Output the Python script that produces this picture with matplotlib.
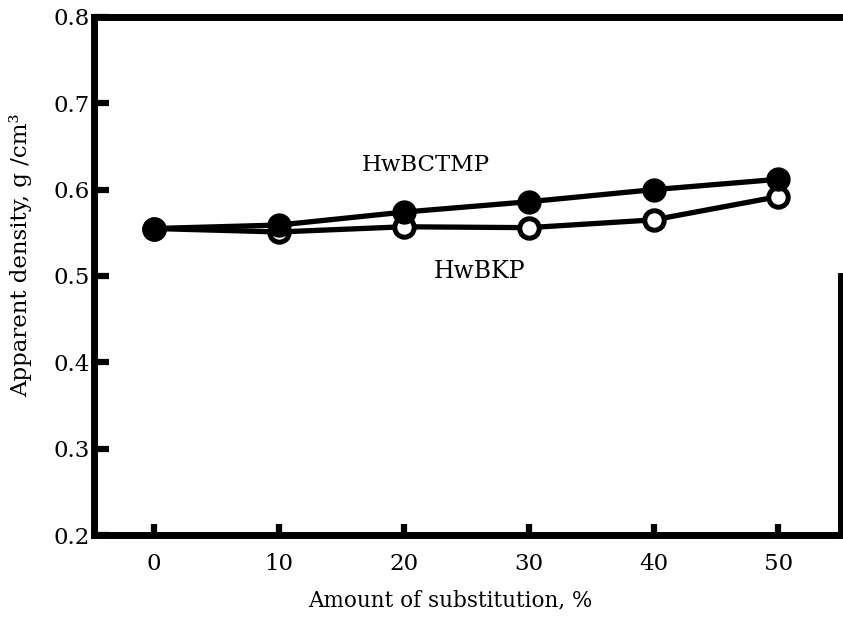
import numpy as np
import matplotlib.pyplot as plt

plt.rcParams['font.family'] = ['DejaVu Serif']

substitution = [0, 10, 20, 30, 40, 50]
hwbctmp = [0.555, 0.559, 0.574, 0.586, 0.600, 0.612]
hwbkp = [0.555, 0.551, 0.557, 0.556, 0.565, 0.592]

x_ticks = [0, 10, 20, 30, 40, 50]
y_ticks = [0.2, 0.3, 0.4, 0.5, 0.6, 0.7, 0.8]

W, H = 843, 624
fig = plt.figure(figsize=(W / 100, H / 100), dpi=100)
ax = fig.add_axes([0.1115, 0.1426, 0.886, 0.8302])

ax.plot(substitution, hwbkp, color='black', lw=3.8, marker='o', ms=14,
        mfc='white', mec='black', mew=3.6, zorder=3)
ax.plot(substitution, hwbctmp, color='black', lw=3.8, marker='o', ms=16.5,
        mfc='black', mec='black', zorder=4)

# series labels, placed in figure pixels measured from the top
fig.text(426 / W, 1 - 165 / H, 'HwBCTMP', fontsize=16.5, ha='center', va='center')
fig.text(480 / W, 1 - 272 / H, 'HwBKP', fontsize=17, ha='center', va='center')

ax.set_xlim(-4.8, 55)
ax.set_ylim(0.2, 0.8)
ax.set_xticks(x_ticks)
ax.set_yticks(y_ticks)
ax.set_yticklabels([f'{v:.1f}' for v in y_ticks])

for side in ['left', 'bottom', 'top', 'right']:
    ax.spines[side].set_linewidth(5)
ax.spines['right'].set_bounds(0.2, 0.5)

ax.tick_params(axis='y', direction='in', length=11, width=4.5, labelsize=16.5, pad=3)
ax.tick_params(axis='x', direction='in', length=8, width=4.5, labelsize=16.5, pad=13)

ax.set_xlabel('Amount of substitution, %', fontsize=15.5)
ax.set_ylabel('Apparent density, g /cm³', fontsize=16.5)
ax.xaxis.set_label_coords(0.477, -0.105)
ax.yaxis.set_label_coords(-0.083, 0.54)

fig.savefig('out.png', dpi=100)
